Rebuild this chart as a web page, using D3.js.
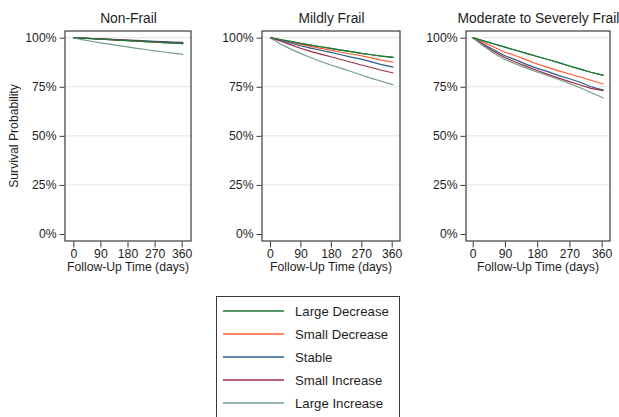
<!DOCTYPE html>
<html>
<head>
<meta charset="utf-8">
<script src="https://cdn.jsdelivr.net/npm/d3@7"></script>
<style>
  body { margin: 0; background: #fff; }
  svg { font-family: "Liberation Sans", Arial, sans-serif; }
</style>
</head>
<body>
<svg id="chart" width="619" height="417"></svg>
<script>
// follow-up days for each read point
const days = [0, 30, 60, 90, 120, 150, 180, 210, 240, 270, 300, 330, 365];

const groups = ['Large Decrease', 'Small Decrease', 'Stable', 'Small Increase', 'Large Increase'];
const groupColors = ['#1f7a38', '#ff5a2e', '#2b5b8e', '#9c2f46', '#749d8a'];

const panelTitles = ['Non-Frail', 'Mildly Frail', 'Moderate to Severely Frail'];

const yTicks = [0, 25, 50, 75, 100];
const xTicks = [0, 90, 180, 270, 360];

// survival (%) per group
const nonFrail = [
  [100, 99.8, 99.5, 99.3, 99.0, 98.8, 98.5, 98.3, 98.0, 97.8, 97.5, 97.3, 97.0],
  [100, 99.8, 99.6, 99.4, 99.1, 98.9, 98.7, 98.4, 98.2, 98.0, 97.8, 97.5, 97.3],
  [100, 99.8, 99.6, 99.4, 99.2, 99.0, 98.8, 98.6, 98.4, 98.2, 98.0, 97.8, 97.6],
  [100, 99.8, 99.6, 99.3, 99.1, 98.9, 98.6, 98.4, 98.1, 97.9, 97.7, 97.4, 97.2],
  [100, 99.0, 98.2, 97.4, 96.7, 96.0, 95.3, 94.6, 94.0, 93.3, 92.7, 92.1, 91.5]
];
const mildlyFrail = [
  [100, 99.1, 98.1, 97.1, 96.2, 95.4, 94.6, 93.7, 92.9, 92.0, 91.3, 90.6, 90.0],
  [100, 98.9, 97.8, 96.6, 95.6, 94.6, 93.7, 92.6, 91.7, 90.8, 89.7, 88.6, 87.5],
  [100, 98.7, 97.3, 95.9, 94.7, 93.6, 92.5, 91.3, 90.1, 89.1, 87.7, 86.3, 85.0],
  [100, 98.3, 96.5, 94.6, 93.0, 91.6, 90.3, 88.9, 87.5, 86.1, 84.8, 83.4, 82.0],
  [100, 96.9, 94.3, 92.0, 89.9, 87.9, 86.1, 84.5, 82.8, 81.0, 79.3, 77.8, 76.0]
];
const severelyFrail = [
  [100, 98.4, 96.8, 95.2, 93.6, 92.0, 90.4, 88.9, 87.3, 85.6, 84.0, 82.4, 80.8],
  [100, 97.6, 95.1, 92.6, 90.8, 88.7, 86.6, 84.9, 83.1, 81.5, 80.0, 78.3, 76.4],
  [100, 96.7, 93.7, 90.8, 88.7, 86.4, 84.4, 82.7, 80.7, 79.1, 77.3, 75.0, 73.3],
  [100, 96.3, 92.9, 89.9, 87.5, 85.4, 83.3, 81.3, 79.4, 77.6, 75.9, 74.2, 73.0],
  [100, 95.8, 92.0, 88.9, 86.6, 84.5, 82.5, 80.6, 78.7, 76.7, 74.5, 72.1, 69.3]
];
const panelData = [nonFrail, mildlyFrail, severelyFrail];

// layout of each plot box (pixels)
const boxes = [
  { left: 65, right: 191, x0: 73.3, x1: 181.7 },
  { left: 262, right: 400, x0: 270, x1: 391.7 },
  { left: 466, right: 610, x0: 472.7, x1: 601.7 }
];
const boxTop = 31, boxBottom = 241;
const textColor = '#1e1e1e';

const svg = d3.select('#chart');

const y = d3.scaleLinear().domain([0, 100]).range([234, 37.7]);

boxes.forEach((b, p) => {
  const x = d3.scaleLinear().domain([0, 360]).range([b.x0, b.x1]);
  const g = svg.append('g');

  // gridlines
  g.selectAll('.grid')
    .data(yTicks.filter(t => t > 0))
    .enter()
    .append('line')
    .attr('x1', b.left)
    .attr('x2', b.right)
    .attr('y1', d => y(d))
    .attr('y2', d => y(d))
    .attr('stroke', '#e3e3e3')
    .attr('stroke-width', 1);

  // curves
  const line = d3.line()
    .x((d, i) => x(days[i]))
    .y(d => y(d));

  panelData[p].forEach((vals, k) => {
    g.append('path')
      .datum(vals)
      .attr('fill', 'none')
      .attr('stroke', groupColors[k])
      .attr('stroke-width', 1.2)
      .attr('d', line);
  });
  // Large Decrease again on top
  g.append('path')
    .datum(panelData[p][0])
    .attr('fill', 'none')
    .attr('stroke', groupColors[0])
    .attr('stroke-width', 1.2)
    .attr('d', line);

  // box
  g.append('rect')
    .attr('x', b.left)
    .attr('y', boxTop)
    .attr('width', b.right - b.left)
    .attr('height', boxBottom - boxTop)
    .attr('fill', 'none')
    .attr('stroke', '#3a3a3a')
    .attr('stroke-width', 1.2);

  // y axis
  const yAxis = d3.axisLeft(y)
    .tickValues(yTicks)
    .tickSize(5)
    .tickPadding(3)
    .tickFormat(d => d + '%');
  const ya = g.append('g')
    .attr('transform', `translate(${b.left - 0.5},0)`)
    .call(yAxis);
  ya.select('.domain').remove();
  ya.selectAll('line').attr('stroke', '#3a3a3a');
  ya.selectAll('text')
    .attr('fill', textColor)
    .style('font-size', '12.2px')
    .style('font-family', '"Liberation Sans", Arial, sans-serif');

  // x axis
  const xAxis = d3.axisBottom(x)
    .tickValues(xTicks)
    .tickSize(6)
    .tickPadding(2);
  const xa = g.append('g')
    .attr('transform', `translate(0,${boxBottom + 0.5})`)
    .call(xAxis);
  xa.select('.domain').remove();
  xa.selectAll('line').attr('stroke', '#3a3a3a');
  xa.selectAll('text')
    .attr('fill', textColor)
    .style('font-size', '12.2px')
    .style('font-family', '"Liberation Sans", Arial, sans-serif');

  g.append('text')
    .attr('x', (b.left + b.right) / 2)
    .attr('y', 271)
    .attr('text-anchor', 'middle')
    .attr('fill', textColor)
    .style('font-size', '12.2px')
    .text('Follow-Up Time (days)');

  g.append('text')
    .attr('x', (b.left + b.right) / 2 + 0.5)
    .attr('y', 23)
    .attr('text-anchor', 'middle')
    .attr('fill', textColor)
    .style('font-size', '13.8px')
    .text(panelTitles[p]);
});

// y title
svg.append('text')
  .attr('transform', 'translate(18,136) rotate(-90)')
  .attr('text-anchor', 'middle')
  .attr('fill', textColor)
  .style('font-size', '12.2px')
  .text('Survival Probability');

// legend
const legend = svg.append('g');
legend.append('rect')
  .attr('x', 216.5)
  .attr('y', 296.5)
  .attr('width', 183)
  .attr('height', 130)
  .attr('fill', '#fff')
  .attr('stroke', '#3a3a3a')
  .attr('stroke-width', 1);

const rows = legend.selectAll('.row')
  .data(groups)
  .enter()
  .append('g')
  .attr('transform', (d, i) => `translate(0,${311 + i * 23})`);

rows.append('line')
  .attr('x1', 223)
  .attr('x2', 284)
  .attr('y1', 0)
  .attr('y2', 0)
  .attr('stroke', (d, i) => groupColors[i])
  .attr('stroke-width', 1.5);

rows.append('text')
  .attr('x', 295)
  .attr('y', 0)
  .attr('dy', '0.35em')
  .attr('fill', textColor)
  .style('font-size', '13.2px')
  .text(d => d);
</script>
</body>
</html>
